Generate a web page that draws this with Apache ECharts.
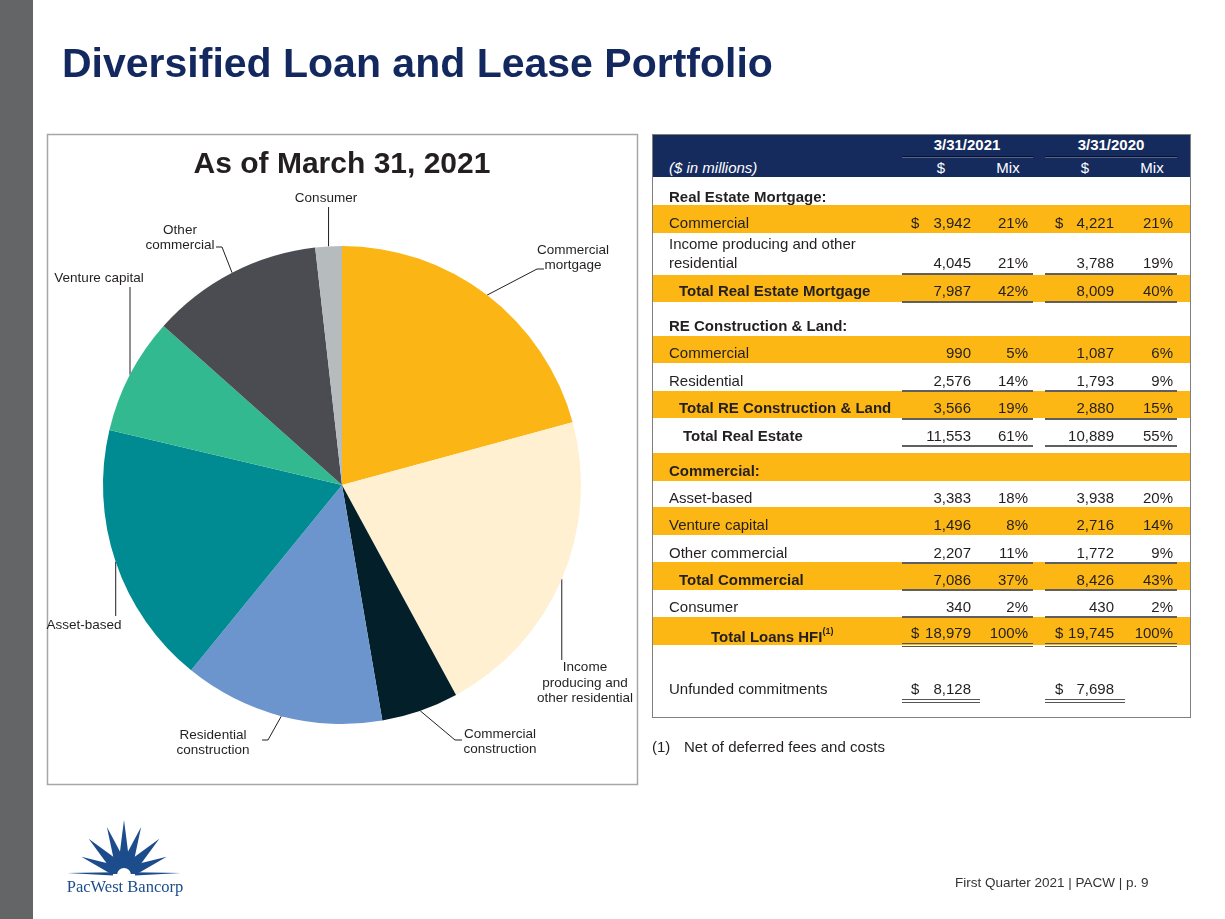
<!DOCTYPE html>
<html>
<head>
<meta charset="utf-8">
<title>Diversified Loan and Lease Portfolio</title>
<script src="https://cdn.jsdelivr.net/npm/echarts@6/dist/echarts.min.js"></script>
<style>
html, body { margin: 0; padding: 0; background: #fff; }
body { width: 1225px; height: 919px; position: relative; overflow: hidden; font-family: 'Liberation Sans', Arial, sans-serif; }
#main { position: absolute; left: 0; top: 0; width: 1225px; height: 919px; }
#tbl { position: absolute; left: 652px; top: 134px; width: 539px; height: 584px; color: #231f20; font-size: 15px; }
#tbl div { position: absolute; white-space: nowrap; }
</style>
</head>
<body>
<div id="main"></div>
<div id="tbl"></div>
<script>
// 标题
var pageTitle = 'Diversified Loan and Lease Portfolio';
var pieTitle = 'As of March 31, 2021';

// 饼图数据 (3/31/2021, $ millions)
var sliceNames = ['Commercial\nmortgage', 'Income\nproducing and\nother residential', 'Commercial\nconstruction',
    'Residential\nconstruction', 'Asset-based', 'Venture capital', 'Other\ncommercial', 'Consumer'];
var sliceValues = [3942, 4045, 990, 2576, 3383, 1496, 2207, 340];
var sliceColors = ['#fbb615', '#fef0d1', '#03202a', '#6c95ce', '#008a91', '#33b98f', '#4a4c51', '#b6bbbe'];

// 表格数据
var colDates = ['3/31/2021', '3/31/2020'];
var rowLabels = ['Real Estate Mortgage:', 'Commercial', 'Income producing and other residential',
    'Total Real Estate Mortgage', 'RE Construction & Land:', 'Commercial', 'Residential',
    'Total RE Construction & Land', 'Total Real Estate', 'Commercial:', 'Asset-based', 'Venture capital',
    'Other commercial', 'Total Commercial', 'Consumer', 'Total Loans HFI', 'Unfunded commitments'];
var amt2021 = [null, 3942, 4045, 7987, null, 990, 2576, 3566, 11553, null, 3383, 1496, 2207, 7086, 340, 18979, 8128];
var mix2021 = [null, 21, 21, 42, null, 5, 14, 19, 61, null, 18, 8, 11, 37, 2, 100, null];
var amt2020 = [null, 4221, 3788, 8009, null, 1087, 1793, 2880, 10889, null, 3938, 2716, 1772, 8426, 430, 19745, 7698];
var mix2020 = [null, 21, 19, 40, null, 6, 9, 15, 55, null, 20, 14, 9, 43, 2, 100, null];
var footNote = 'Net of deferred fees and costs';
var footer = 'First Quarter 2021 | PACW | p. 9';

// 标签位置 (页面坐标)
var labelSpots = [
    {x: 573, y: 258, elbow: [537, 269], end: [544, 269]},
    {x: 585, y: 683, downTo: 660},
    {x: 500, y: 742, elbow: [455, 740], end: [462, 740]},
    {x: 213, y: 743, elbow: [268, 740], end: [262, 740]},
    {x: 84, y: 625, downTo: 616},
    {x: 99, y: 278, downTo: 287},
    {x: 180, y: 238, elbow: [222, 247], end: [216, 247]},
    {x: 326, y: 198, downTo: 207}
];

// 表格行样式
var rowLook = [
    {ty: 196, bold: 1, ind: 17},
    {ty: 222, band: [205, 233], ind: 17, dollar: 1},
    {ty: 262, ind: 17, wrap: 1, rule: [273, 's']},
    {ty: 290, band: [275, 302], bold: 1, ind: 27, rule: [301, 's']},
    {ty: 325, bold: 1, ind: 17},
    {ty: 352, band: [336, 363], ind: 17},
    {ty: 380, ind: 17, rule: [390, 's']},
    {ty: 407, band: [391, 418], bold: 1, ind: 27, rule: [418, 's']},
    {ty: 435, bold: 1, ind: 31, rule: [445, 's']},
    {ty: 470, band: [453, 481], bold: 1, ind: 17},
    {ty: 497, ind: 17},
    {ty: 524, band: [507, 535], ind: 17},
    {ty: 552, ind: 17, rule: [562, 's']},
    {ty: 579, band: [562, 590], bold: 1, ind: 27, rule: [589, 's']},
    {ty: 606, ind: 17, rule: [616, 's']},
    {ty: 632, band: [617, 645], bold: 1, ind: 59, dollar: 1, sup: '(1)', rule: [643, 'd']},
    {ty: 688, ind: 17, dollar: 1, rule: [699, 'd'], short: 1}
];

var FONT = '"Liberation Sans", Arial, sans-serif';
var NAVY = '#13285f';
var YELLOW = '#fcb714';

// ---------- 表格 ----------
var tbl = document.getElementById('tbl');
var X0 = 652, Y0 = 134;
function put(html, css) {
    var d = document.createElement('div');
    d.innerHTML = html;
    d.style.cssText = css;
    tbl.appendChild(d);
    return d;
}
function txtTop(ty) { return 'top:' + (ty - Y0 - 9) + 'px;height:20px;line-height:20px;'; }
function leftText(html, x, ty, extra) { return put(html, 'left:' + (x - X0) + 'px;' + txtTop(ty) + (extra || '')); }
function rightText(html, xr, ty, extra) { return put(html, 'left:' + (xr - X0 - 120) + 'px;width:120px;text-align:right;' + txtTop(ty) + (extra || '')); }
function centerText(html, xc, ty, extra) { return put(html, 'left:' + (xc - X0 - 80) + 'px;width:160px;text-align:center;' + txtTop(ty) + (extra || '')); }
function hline(x1, x2, y, h, color) { put('', 'left:' + (x1 - X0) + 'px;top:' + (y - Y0) + 'px;width:' + (x2 - x1) + 'px;height:' + h + 'px;background:' + color + ';'); }
function fmt(n) { return n.toLocaleString('en-US'); }

// 表头
put('', 'left:0;top:0;width:539px;height:43px;background:#152b5e;');
centerText('<b>' + colDates[0] + '</b>', 967, 144, 'color:#fff;');
centerText('<b>' + colDates[1] + '</b>', 1111, 144, 'color:#fff;');
hline(902, 1033, 156, 1, '#07112c');
hline(1045, 1177, 156, 1, '#07112c');
hline(902, 1033, 157, 1, '#56648a');
hline(1045, 1177, 157, 1, '#56648a');
leftText('<i>($ in millions)</i>', 669, 167, 'color:#fff;');
centerText('$', 941, 167, 'color:#fff;');
centerText('Mix', 1008, 167, 'color:#fff;');
centerText('$', 1085, 167, 'color:#fff;');
centerText('Mix', 1152, 167, 'color:#fff;');

// 黄色行底
rowLook.forEach(function (lk) {
    if (lk.band) put('', 'left:1px;width:537px;top:' + (lk.band[0] - Y0) + 'px;height:' + (lk.band[1] - lk.band[0]) + 'px;background:' + YELLOW + ';');
});

// 行内容
rowLabels.forEach(function (name, i) {
    var lk = rowLook[i];
    var label = name;
    if (lk.bold) label = '<b>' + label + (lk.sup ? '<sup style="font-size:9px;position:relative;top:-2px;">' + lk.sup + '</sup>' : '') + '</b>';
    if (lk.wrap) {
        put(label, 'left:' + (669 - X0) + 'px;top:' + (lk.ty - Y0 - 28) + 'px;width:231px;white-space:normal;line-height:19px;');
    } else {
        leftText(label, X0 + lk.ind, lk.ty);
    }
    if (amt2021[i] != null) {
        if (lk.dollar) { leftText('$', 911, lk.ty); leftText('$', 1055, lk.ty); }
        rightText(fmt(amt2021[i]), 971, lk.ty);
        rightText(fmt(amt2020[i]), 1114, lk.ty);
    }
    if (mix2021[i] != null) {
        rightText(mix2021[i] + '%', 1028, lk.ty);
        rightText(mix2020[i] + '%', 1173, lk.ty);
    }
    if (lk.rule) {
        var g1 = lk.short ? [902, 980] : [902, 1033];
        var g2 = lk.short ? [1045, 1125] : [1045, 1177];
        [g1, g2].forEach(function (g) {
            if (lk.rule[1] === 's') {
                hline(g[0], g[1], lk.rule[0], 2, '#5f5f5f');
            } else {
                hline(g[0], g[1], lk.rule[0], 1, '#555');
                hline(g[0], g[1], lk.rule[0] + 3, 1, '#555');
            }
        });
    }
});
// 边框
put('', 'left:0;top:0;width:539px;height:584px;box-sizing:border-box;border:1px solid #7f7f7f;');

// ---------- 图形 ----------
var logoC = [124, 874];
var rays = [[0, 54, 5.5], [20, 50, 5.5], [-20, 50, 5.5], [45, 50, 6], [-45, 50, 6],
    [68, 46, 5], [-68, 46, 5], [89, 57, 1.6], [-89, 57, 1.6]];
var logoParts = rays.map(function (r) {
    var t = r[0] * Math.PI / 180;
    var dx = Math.sin(t), dy = -Math.cos(t);
    var bx = logoC[0] + dx * 11, by = logoC[1] + dy * 11;
    return {
        type: 'polygon', z: 10,
        shape: {points: [[bx + r[2] * Math.cos(t), by + r[2] * Math.sin(t)],
            [logoC[0] + dx * r[1], logoC[1] + dy * r[1]],
            [bx - r[2] * Math.cos(t), by - r[2] * Math.sin(t)]]},
        style: {fill: '#1c4c8c'}
    };
});
logoParts.push({type: 'sector', z: 11, shape: {cx: logoC[0], cy: logoC[1], r: 13.5, r0: 0, startAngle: Math.PI, endAngle: Math.PI * 2}, style: {fill: '#1c4c8c'}});
logoParts.push({type: 'sector', z: 12, shape: {cx: logoC[0], cy: logoC[1] + 1, r: 7, r0: 0, startAngle: Math.PI, endAngle: Math.PI * 2}, style: {fill: '#fff'}});
logoParts.push({type: 'text', z: 12, x: 125, y: 888, style: {text: 'PacWest Bancorp', font: '16.5px "Liberation Serif", "Times New Roman", serif', fill: '#1c4c8c', align: 'center', verticalAlign: 'middle'}});

var graphics = [
    {type: 'rect', z: 1, shape: {x: 0, y: 0, width: 33, height: 919}, style: {fill: '#646567'}},
    {type: 'rect', z: 1, shape: {x: 47.5, y: 134.5, width: 590, height: 650}, style: {fill: 'none', stroke: '#a6a6a6', lineWidth: 1.5}},
    {type: 'text', z: 10, x: 62, y: 66, style: {text: pageTitle, font: 'bold 41px ' + FONT, fill: NAVY, verticalAlign: 'middle'}},
    {type: 'text', z: 10, x: 342, y: 165, style: {text: pieTitle, font: 'bold 30px ' + FONT, fill: '#231f20', align: 'center', verticalAlign: 'middle'}},
    {type: 'text', z: 10, x: 652, y: 748, style: {text: '(1)', font: '15px ' + FONT, fill: '#231f20', verticalAlign: 'middle'}},
    {type: 'text', z: 10, x: 684, y: 748, style: {text: footNote, font: '15px ' + FONT, fill: '#231f20', verticalAlign: 'middle'}},
    {type: 'text', z: 10, x: 955, y: 883, style: {text: footer, font: '13.5px ' + FONT, fill: '#333', verticalAlign: 'middle'}}
].concat(logoParts);

var chart = echarts.init(document.getElementById('main'));
var option = {
    backgroundColor: '#fff',
    animation: false,
    textStyle: {fontFamily: FONT},
    graphic: graphics,
    series: [{
        type: 'pie',
        center: [342, 485],
        radius: 239,
        startAngle: 90,
        clockwise: true,
        silent: true,
        avoidLabelOverlap: false,
        emphasis: {disabled: true},
        itemStyle: {borderWidth: 0},
        label: {
            show: true,
            position: 'outside',
            formatter: '{b}',
            fontSize: 13.5,
            lineHeight: 15.5,
            color: '#231f20',
            fontFamily: FONT
        },
        labelLine: {show: true, length: 10, length2: 10, lineStyle: {color: '#231f20', width: 1}},
        labelLayout: function (p) {
            var s = labelSpots[p.dataIndex];
            var a = (p.labelLinePoints && p.labelLinePoints[0]) || [342, 485];
            var pts = s.elbow ? [a, s.elbow, s.end] : [a, [a[0], s.downTo], [a[0], s.downTo]];
            return {x: s.x, y: s.y, align: 'center', verticalAlign: 'middle', labelLinePoints: pts};
        },
        data: sliceNames.map(function (n, i) {
            return {name: n, value: sliceValues[i], itemStyle: {color: sliceColors[i]}};
        })
    }]
};
chart.setOption(option);
</script>
</body>
</html>
